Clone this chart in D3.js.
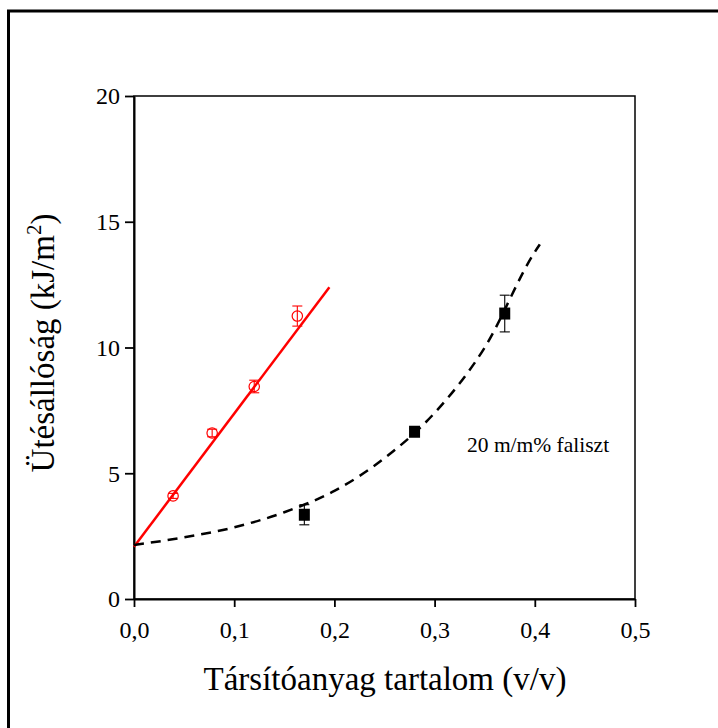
<!DOCTYPE html>
<html>
<head>
<meta charset="utf-8">
<script src="https://cdnjs.cloudflare.com/ajax/libs/d3/7.8.5/d3.min.js"></script>
<style>
  body { margin: 0; background: #fff; }
  svg text { font-family: "Liberation Serif", "Times New Roman", "DejaVu Serif", serif !important; }
</style>
</head>
<body>
<svg id="chart"></svg>
<script>
// red series (open circles)
const redX = [0.039, 0.078, 0.12, 0.163];
const redY = [4.1, 6.6, 8.45, 11.25];
const redErr = [0.1, 0.15, 0.25, 0.4];
// red fitted line endpoints
const redLineX = [0, 0.195];
const redLineY = [2.08, 12.4];

// black series (filled squares)
const blackX = [0.17, 0.28, 0.37];
const blackY = [3.35, 6.65, 11.35];
const blackErr = [0.4, 0.12, 0.73];
// dashed curve
const curveX = [0, 0.05, 0.1, 0.15, 0.2, 0.25, 0.3, 0.35, 0.4, 0.405];
const curveY = [2.15, 2.45, 2.85, 3.45, 4.3, 5.6, 7.4, 10.0, 13.8, 14.1];

const xTicks = [0, 0.1, 0.2, 0.3, 0.4, 0.5];
const yTicks = [0, 5, 10, 15, 20];

const width = 718, height = 728;
const padLeft = 134, padRight = 635, padTop = 96, padBottom = 599;

const svg = d3.select("#chart").attr("width", width).attr("height", height);

// outer frame
svg.append("rect")
    .attr("x", 8.5).attr("y", 11)
    .attr("width", 800).attr("height", 800)
    .attr("fill", "none").attr("stroke", "#000").attr("stroke-width", 3);

const xScale = d3.scaleLinear().domain([0, 0.5]).range([padLeft, padRight]);
const yScale = d3.scaleLinear().domain([0, 20]).range([padBottom, padTop]);

const fmt = d => d3.format(".1f")(d).replace(".", ",");

// plot box
svg.append("rect")
    .attr("x", padLeft).attr("y", padTop)
    .attr("width", padRight - padLeft).attr("height", padBottom - padTop)
    .attr("fill", "none").attr("stroke", "#000").attr("stroke-width", 1.5);

const xAxis = d3.axisBottom(xScale).tickValues(xTicks).tickFormat(fmt).tickSize(8).tickSizeOuter(0);
const yAxis = d3.axisLeft(yScale).tickValues(yTicks).tickSize(9).tickSizeOuter(0);

const gx = svg.append("g").attr("transform", `translate(0, ${padBottom})`).call(xAxis);
const gy = svg.append("g").attr("transform", `translate(${padLeft}, 0)`).call(yAxis);

[gx, gy].forEach(g => {
  g.select(".domain").attr("stroke-width", 2);
  g.selectAll(".tick line").attr("stroke-width", 1.8);
  g.selectAll(".tick text").attr("font-size", 24).attr("fill", "#000");
});
gx.selectAll(".tick text").attr("y", 22);
gy.selectAll(".tick text").attr("x", -14).attr("dy", "0.33em");

// red line
svg.append("path")
    .datum(redLineX.map((x, i) => [x, redLineY[i]]))
    .attr("d", d3.line().x(d => xScale(d[0])).y(d => yScale(d[1])))
    .attr("fill", "none").attr("stroke", "#ff0000").attr("stroke-width", 2.5);

// dashed curve
svg.append("path")
    .datum(curveX.map((x, i) => [x, curveY[i]]))
    .attr("d", d3.line().x(d => xScale(d[0])).y(d => yScale(d[1])).curve(d3.curveMonotoneX))
    .attr("fill", "none").attr("stroke", "#000").attr("stroke-width", 2.5)
    .attr("stroke-dasharray", "10,7");

// error bars
function errorBars(xs, ys, es, color) {
  const g = svg.append("g").attr("stroke", color).attr("stroke-width", 1.1);
  xs.forEach((x, i) => {
    const cx = xScale(x), y1 = yScale(ys[i] - es[i]), y2 = yScale(ys[i] + es[i]);
    g.append("line").attr("x1", cx).attr("x2", cx).attr("y1", y1).attr("y2", y2);
    g.append("line").attr("x1", cx - 5).attr("x2", cx + 5).attr("y1", y1).attr("y2", y1);
    g.append("line").attr("x1", cx - 5).attr("x2", cx + 5).attr("y1", y2).attr("y2", y2);
  });
}
errorBars(redX, redY, redErr, "#ff0000");
errorBars(blackX, blackY, blackErr, "#000");

// red open circles
svg.append("g").selectAll("circle")
  .data(redX)
  .join("circle")
    .attr("cx", d => xScale(d))
    .attr("cy", (d, i) => yScale(redY[i]))
    .attr("r", 5.2)
    .attr("fill", "none").attr("stroke", "#ff0000").attr("stroke-width", 1.2);

// black squares
svg.append("g").selectAll("rect")
  .data(blackX)
  .join("rect")
    .attr("x", d => xScale(d) - 5.5)
    .attr("y", (d, i) => yScale(blackY[i]) - 6)
    .attr("width", 11).attr("height", 12)
    .attr("fill", "#000");

// annotation
svg.append("text")
    .attr("x", 467).attr("y", 452)
    .attr("font-size", 21.5)
    .text("20 m/m% faliszt");

// x axis title
svg.append("text")
    .attr("x", 385).attr("y", 690)
    .attr("text-anchor", "middle")
    .attr("font-size", 33)
    .text("Társítóanyag tartalom (v/v)");

// y axis title
const yt = svg.append("text")
    .attr("transform", "translate(54, 343) rotate(-90)")
    .attr("text-anchor", "middle")
    .attr("font-size", 33);
yt.append("tspan").text("Ütésállóság (kJ/m");
yt.append("tspan").attr("dy", -13).attr("font-size", 21).text("2");
yt.append("tspan").attr("dy", 13).text(")");
</script>
</body>
</html>
